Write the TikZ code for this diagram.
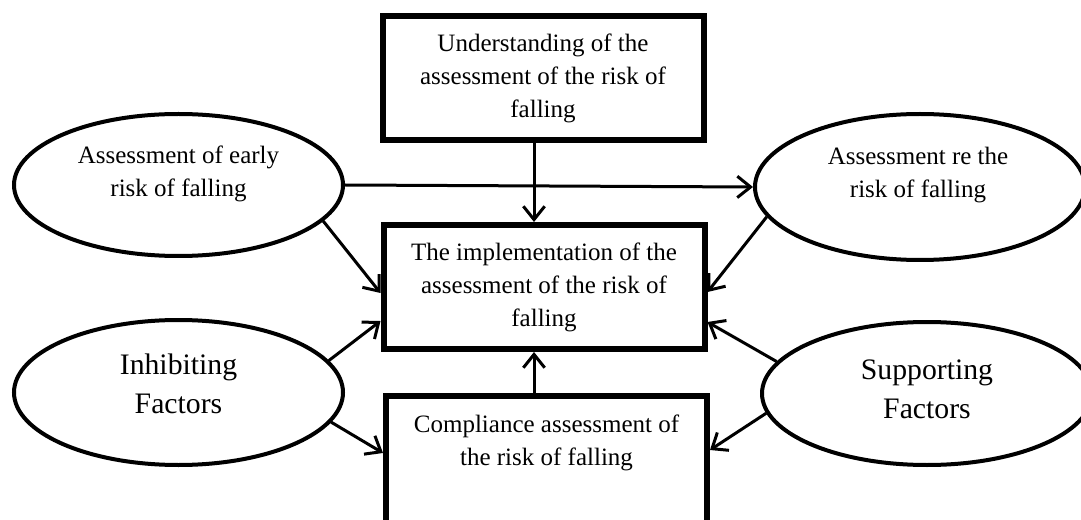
\documentclass[tikz,border=0pt]{standalone}
\usepackage{fontspec}
\setmainfont{Liberation Serif}
\usetikzlibrary{arrows.meta,calc,shapes.geometric}
\begin{document}
\begin{tikzpicture}[x=0.75pt,y=-0.75pt,
  box/.style={draw, line width=4.5pt, rectangle, minimum width=240.75pt, minimum height=93pt, inner sep=0pt, align=center, font=\fontsize{18.75}{24.75}\selectfont},
  oval/.style={draw, line width=3pt, ellipse, inner sep=0pt},
  lbl/.style={align=center, inner sep=0pt, font=\fontsize{18.75}{24.75}\selectfont},
  biglbl/.style={align=center, inner sep=0pt, font=\fontsize{22.3}{29.25}\selectfont},
  arr/.style={line width=2.25pt, -{Straight Barb[length=10pt,width=16pt]}}]

\useasboundingbox (0,0) rectangle (1081,520);

\node[box] (top) at (543,78.5) {Understanding of the\\assessment of the risk of\\falling};
\node[box] (mid) at (544,287) {The implementation of the\\assessment of the risk of\\falling};
\node[box, minimum height=123pt] (comp) at (546.5,478) {};
\node[lbl] (comptext) at ($(comp.north)+(0,50)$) {Compliance assessment of\\the risk of falling};

\node[oval, minimum width=246.75pt, minimum height=106.5pt] (e1) at (178.5,185) {};
\node[lbl] (t1) at ($(e1.center)+(0,-11)$) {Assessment of early\\risk of falling};
\node[oval, minimum width=247.5pt, minimum height=109.5pt] (e2) at (920,187) {};
\node[lbl] (t2) at ($(e2.center)+(-2,-12)$) {Assessment re the\\risk of falling};
\node[oval, minimum width=246.75pt, minimum height=108.75pt] (e3) at (178.5,392.5) {};
\node[biglbl] (t3) at ($(e3.center)+(0,-9)$) {Inhibiting\\Factors};
\node[oval, minimum width=247.5pt, minimum height=107.25pt] (e4) at (927,393.5) {};
\node[biglbl] (t4) at ($(e4.center)+(0,-4)$) {Supporting\\Factors};

\coordinate (vx) at (534,0);
\draw[arr] (top.south -| vx) -- (mid.north -| vx);
\draw[arr] (comp.north -| vx) -- (mid.south -| vx);
\draw[arr] (e1.east) -- (e2.west);
\draw[arr] (e1.-14) -- ($(mid.west)+(0,6)$);
\draw[arr] (e2.191) -- ($(mid.east)+(0,5)$);
\draw[arr] (e3.12) -- ($(mid.west)+(0,34)$);
\draw[arr] (e3.-11) -- ($(comp.north west)+(0,60)$);
\draw[arr] (e4.168) -- ($(mid.east)+(0,35)$);
\draw[arr] (e4.187) -- ($(comp.north east)+(0,57)$);
\end{tikzpicture}
\end{document}
